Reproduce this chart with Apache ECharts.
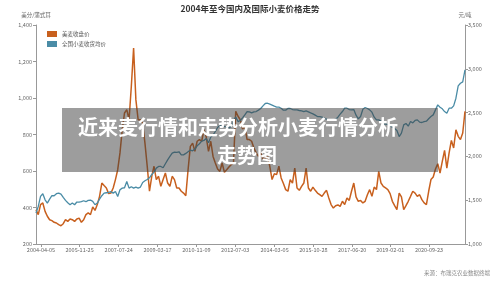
<!DOCTYPE html>
<html>
<head>
<meta charset="utf-8">
<script src="https://cdn.jsdelivr.net/npm/echarts@6/dist/echarts.min.js"></script>
<style>
  html, body { margin: 0; padding: 0; background: #fff; }
  #chart { width: 500px; height: 281px; }
</style>
</head>
<body>
<div id="chart"></div>
<script>
const titleText = '2004年至今国内及国际小麦价格走势';
const seriesNames = ['美麦收盘价', '全国小麦收货均价'];
const leftAxisName = '美分/蒲式耳';
const rightAxisName = '元/吨';
const sourceText = '来源：布瑞克农业数据终端';
const overlayLines = ['近来麦行情和走势分析小麦行情分析', '走势图'];

// 时间范围与横轴刻度
const startDate = '2004-01-19';
const endDate = '2022-04-04';
const tickDates = ['2004-04-05', '2005-11-25', '2007-07-24', '2009-03-17', '2010-11-09',
  '2012-07-03', '2014-03-05', '2015-10-28', '2017-06-20', '2019-02-01', '2020-09-23'];

// 美麦收盘价 (美分/蒲式耳), 等间隔取样
const usWheat = [
  388, 361, 416, 425, 379, 352, 333, 328, 319, 315,
  306, 300, 311, 333, 324, 337, 333, 324, 337, 342,
  319, 333, 361, 370, 361, 403, 384, 416, 461, 534,
  520, 507, 476, 479, 507, 553, 607, 699, 826, 918,
  936, 881, 1064, 1274, 991, 881, 881, 863, 753, 626,
  489, 571, 626, 553, 571, 516, 553, 589, 534, 516,
  571, 553, 507, 507, 489, 479, 465, 607, 735, 753,
  708, 763, 772, 763, 826, 786, 708, 763, 680, 644,
  611, 598, 644, 593, 607, 622, 635, 644, 927, 900,
  881, 830, 845, 772, 772, 763, 726, 699, 680, 699,
  666, 671, 680, 626, 553, 585, 580, 626, 562, 531,
  498, 489, 553, 534, 616, 507, 494, 516, 534, 616,
  507, 489, 512, 494, 479, 470, 461, 479, 494, 452,
  416, 397, 410, 414, 406, 434, 416, 452, 439, 489,
  534, 458, 434, 439, 425, 434, 470, 498, 461, 512,
  498, 598, 534, 516, 507, 498, 476, 434, 410, 388,
  479, 458, 388, 410, 434, 461, 489, 479, 461, 470,
  443, 425, 416, 489, 553, 567, 611, 640, 589, 653,
  713, 616, 699, 768, 726, 826, 790, 772, 808, 927
];

// 全国小麦收货均价 (元/吨), 等间隔取样
const cnWheat = [
  1353, 1429, 1543, 1574, 1505, 1467, 1513, 1551, 1551, 1574,
  1581, 1570, 1532, 1498, 1471, 1448, 1467, 1448, 1479, 1479,
  1483, 1494, 1483, 1498, 1502, 1486, 1448, 1467, 1513, 1551,
  1581, 1585, 1589, 1597, 1581, 1600, 1543, 1619, 1638, 1642,
  1714, 1638, 1654, 1638, 1650, 1638, 1650, 1703, 1722, 1737,
  1756, 1794, 1821, 1866, 1885, 1885, 1870, 1916, 1961, 1999,
  2037, 2049, 2045, 2053, 2018, 2018, 2034, 2053, 2072, 2064,
  2083, 2121, 2144, 2174, 2182, 2205, 2155, 2220, 2243, 2284,
  2330, 2353, 2349, 2341, 2341, 2326, 2341, 2410, 2448, 2398,
  2410, 2440, 2474, 2512, 2509, 2497, 2509, 2512, 2528, 2547,
  2577, 2604, 2607, 2596, 2585, 2573, 2562, 2562, 2550, 2528,
  2528, 2547, 2547, 2535, 2531, 2531, 2524, 2520, 2512, 2520,
  2509, 2497, 2486, 2471, 2455, 2455, 2448, 2436, 2425, 2421,
  2417, 2417, 2425, 2448, 2482, 2512, 2550, 2550, 2535, 2531,
  2535, 2471, 2429, 2455, 2539, 2558, 2547, 2531, 2505, 2448,
  2417, 2417, 2402, 2368, 2372, 2364, 2349, 2334, 2319, 2296,
  2227, 2265, 2360, 2376, 2345, 2398, 2383, 2410, 2417, 2391,
  2387, 2398, 2402, 2429, 2455, 2474, 2531, 2588, 2562, 2543,
  2512, 2493, 2550, 2550, 2577, 2664, 2805, 2835, 2851, 2987
];

const ts = s => {
  const [y, m, d] = s.split('-').map(Number);
  return Date.UTC(y, m - 1, d);
};

// 把等间隔取样的值铺到起止时间上
const toPairs = values => {
  const t0 = ts(startDate);
  const step = (ts(endDate) - t0) / (values.length - 1);
  return values.map((v, i) => [t0 + i * step, v]);
};

const pad = n => (n < 10 ? '0' : '') + n;
const fmtDate = v => {
  const d = new Date(v);
  return d.getUTCFullYear() + '-' + pad(d.getUTCMonth() + 1) + '-' + pad(d.getUTCDate());
};

const fontFamily = '"Noto Sans CJK SC", sans-serif';
const tickValues = tickDates.map(ts);

const chart = echarts.init(document.getElementById('chart'));

const option = {
  animation: false,
  backgroundColor: '#fff',
  textStyle: { fontFamily },
  title: {
    text: titleText,
    left: 'center',
    top: 0,
    textStyle: { fontSize: 8.5, fontWeight: 'bold', color: '#333', fontFamily }
  },
  legend: {
    orient: 'vertical',
    left: 42,
    top: 26,
    itemWidth: 10,
    itemHeight: 6,
    itemGap: 4,
    icon: 'rect',
    textStyle: { fontSize: 5.5, color: '#555', fontFamily },
    data: seriesNames
  },
  grid: { left: 36, right: 35, top: 25, bottom: 37 },
  xAxis: {
    type: 'value',
    min: ts(startDate),
    max: ts(endDate),
    axisLine: { lineStyle: { color: '#999' } },
    axisTick: { customValues: tickValues, length: 3, lineStyle: { color: '#999' } },
    axisLabel: {
      customValues: tickValues,
      formatter: fmtDate,
      fontSize: 5.5,
      color: '#666',
      margin: 3
    },
    splitLine: { show: false }
  },
  yAxis: [
    {
      type: 'value',
      name: leftAxisName,
      nameGap: 7,
      nameTextStyle: { fontSize: 5.5, color: '#666' },
      min: 200,
      max: 1400,
      interval: 200,
      axisLine: { show: true, lineStyle: { color: '#999' } },
      axisTick: { show: true, length: 3 },
      axisLabel: {
        fontSize: 5.5,
        color: '#666',
        margin: 4,
        formatter: v => v.toLocaleString('en-US')
      },
      splitLine: { show: false }
    },
    {
      type: 'value',
      name: rightAxisName,
      nameGap: 7,
      nameTextStyle: { fontSize: 5.5, color: '#666' },
      min: 1000,
      max: 3500,
      interval: 500,
      axisLine: { show: true, lineStyle: { color: '#999' } },
      axisTick: { show: true, length: 3 },
      axisLabel: {
        fontSize: 5.5,
        color: '#666',
        margin: 3,
        formatter: v => v.toLocaleString('en-US')
      },
      splitLine: { show: false }
    }
  ],
  series: [
    {
      name: seriesNames[0],
      type: 'line',
      yAxisIndex: 0,
      showSymbol: false,
      color: '#c8601e',
      lineStyle: { width: 1.5 },
      data: toPairs(usWheat)
    },
    {
      name: seriesNames[1],
      type: 'line',
      yAxisIndex: 1,
      showSymbol: false,
      color: '#4a8ca6',
      lineStyle: { width: 1.3 },
      data: toPairs(cnWheat)
    }
  ],
  graphic: [
    {
      type: 'text',
      right: 10,
      top: 270,
      style: { text: sourceText, fill: '#888', font: '5.5px ' + fontFamily }
    },
    {
      type: 'rect',
      z: 100,
      shape: { x: 62, y: 108, width: 376, height: 64 },
      style: { fill: 'rgba(60,60,60,0.5)' }
    },
    {
      type: 'text',
      z: 101,
      x: 238,
      y: 127,
      style: {
        text: overlayLines[0],
        font: 'bold 20px ' + fontFamily,
        fill: '#fff',
        align: 'center',
        verticalAlign: 'middle',
        shadowColor: 'rgba(0,0,0,0.5)',
        shadowBlur: 2
      }
    },
    {
      type: 'text',
      z: 101,
      x: 247,
      y: 155,
      style: {
        text: overlayLines[1],
        font: 'bold 20px ' + fontFamily,
        fill: '#fff',
        align: 'center',
        verticalAlign: 'middle',
        shadowColor: 'rgba(0,0,0,0.5)',
        shadowBlur: 2
      }
    }
  ]
};

chart.setOption(option);
</script>
</body>
</html>
